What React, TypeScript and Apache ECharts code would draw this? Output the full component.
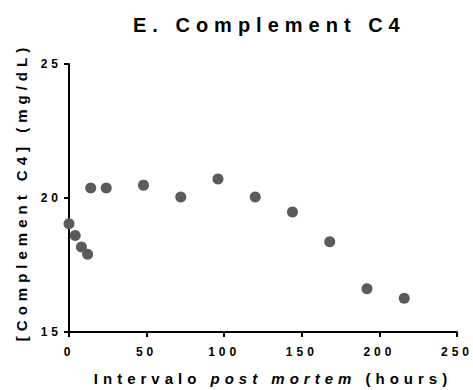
import React, { useEffect, useRef } from "react";
import * as echarts from "echarts";

// Sampling times (hours) and measured complement C4 (mg/dL)
const hours = [0, 4, 8, 12, 14, 24, 48, 72, 96, 120, 144, 168, 192, 216];
const c4 = [19.04, 18.6, 18.17, 17.9, 20.37, 20.37, 20.48, 20.04, 20.71, 20.04, 19.48, 18.37, 16.61, 16.26];

const xTicks = [0, 50, 100, 150, 200, 250];
const yTicks = [15, 20, 25];

const titleText = "E. Complement C4";
const yTitle = "[Complement C4] (mg/dL)";
const xTitleParts = ["Intervalo", "post mortem", "(hours)"];

const FONT = "Liberation Sans";
const DOT = "#5b5b5b";

// wide tracking used by every label (a little tighter on the big title)
const trackingFor = (size: number) => (size >= 18 ? 6 : Math.round((size / 3) * 10) / 10);

// fresh axis option for each axis so nothing is shared between them
const makeAxis = (ticks: number[], labelMargin: number) => ({
  type: "value" as const,
  min: ticks[0],
  max: ticks[ticks.length - 1],
  interval: ticks[1] - ticks[0],
  axisLine: { show: true, onZero: false, lineStyle: { color: "#000", width: 2 } },
  axisTick: { show: true, length: 5, lineStyle: { color: "#000", width: 2 } },
  splitLine: { show: false },
  axisLabel: {
    show: true,
    margin: labelMargin,
    color: "#000",
    fontSize: 12,
    fontWeight: "bold" as const,
    fontFamily: FONT,
  },
});

export default function App() {
  const ref = useRef<HTMLDivElement>(null);

  useEffect(() => {
    document.body.style.margin = "0";
    const el = ref.current!;
    const chart = echarts.init(el, undefined, { renderer: "svg" });

    // lay out the x-axis title segments (regular / italic / regular) side by side
    const titleSize = 15;
    const ls = trackingFor(titleSize);
    const ctx = document.createElement("canvas").getContext("2d")!;
    const measure = (s: string, italic: boolean) => {
      ctx.font = `${italic ? "italic " : ""}bold ${titleSize}px "${FONT}"`;
      return ctx.measureText(s).width + s.length * ls;
    };
    const w0 = measure(xTitleParts[0], false);
    const w1 = measure(xTitleParts[1], true);
    const w2 = measure(xTitleParts[2], false);
    const sp = measure(" ", false);
    const total = w0 + sp + w1 + sp + w2 - ls;
    const cx = 270.5;
    const x0 = cx - total / 2;
    const x1 = x0 + w0 + sp;
    const x2 = x1 + w1 + sp;
    const xTitleY = 378;

    const textStyle = (text: string, extra: Record<string, unknown> = {}) => ({
      text,
      fontFamily: FONT,
      fontWeight: "bold",
      fontSize: titleSize,
      fill: "#000",
      verticalAlign: "middle",
      align: "left",
      ...extra,
    });

    chart.setOption({
      animation: false,
      title: {
        text: titleText,
        left: 133,
        top: 15,
        padding: 0,
        textStyle: { fontFamily: FONT, fontWeight: "bold", fontSize: 20, color: "#000" },
      },
      grid: { left: 69, right: 16, top: 64, bottom: 58 },
      xAxis: makeAxis(xTicks, 14),
      yAxis: makeAxis(yTicks, 7),
      graphic: [
        {
          type: "text",
          x: 21.5,
          y: 192,
          rotation: Math.PI / 2,
          style: textStyle(yTitle, { align: "center" }),
        },
        { type: "text", x: x0, y: xTitleY, style: textStyle(xTitleParts[0]) },
        { type: "text", x: x1, y: xTitleY, style: textStyle(xTitleParts[1], { fontStyle: "italic" }) },
        { type: "text", x: x2, y: xTitleY, style: textStyle(xTitleParts[2]) },
      ],
      series: [
        {
          type: "scatter",
          symbol: "circle",
          symbolSize: 11,
          itemStyle: { color: DOT, opacity: 1 },
          data: hours.map((h, i) => [h, c4[i]]),
        },
      ],
    });

    const applyTracking = () => {
      el.querySelectorAll("text").forEach((t) => {
        const fs = parseFloat(getComputedStyle(t).fontSize) || 12;
        t.setAttribute("letter-spacing", String(trackingFor(fs)));
      });
    };
    applyTracking();
    chart.on("rendered", applyTracking);
    const timer = window.setTimeout(applyTracking, 0);

    return () => {
      window.clearTimeout(timer);
      chart.dispose();
    };
  }, []);

  return <div ref={ref} style={{ width: 473, height: 390 }} />;
}
